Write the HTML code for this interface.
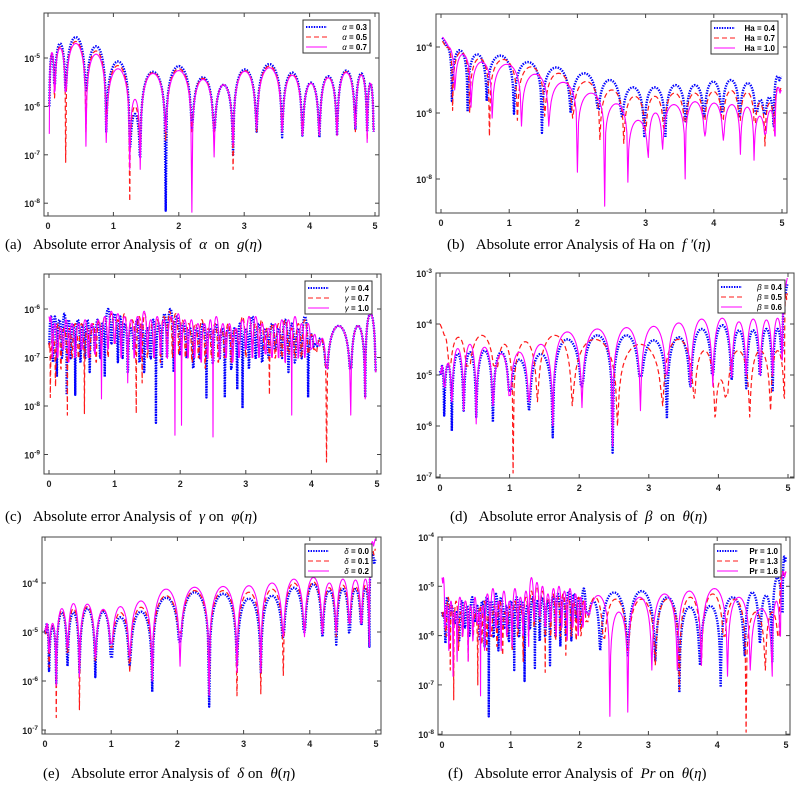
<!DOCTYPE html>
<html><head><meta charset="utf-8">
<style>
html,body{margin:0;padding:0;background:#fff;}
svg{display:block;}
.tk{font-family:"Liberation Sans",sans-serif;font-weight:bold;font-size:9px;fill:#222;}
.lg{font-family:"Liberation Sans",sans-serif;font-weight:bold;font-size:8px;fill:#000;}
.cap{font-family:"Liberation Serif",serif;font-size:15px;fill:#000;}
</style></head>
<body>
<svg id="fig" width="805" height="791" viewBox="0 0 805 791" xmlns="http://www.w3.org/2000/svg"></svg>
<script>
// ---------- data ----------
// panel (a)
const aZ=[0.02,0.1,0.27,0.58,0.89,1.25,1.41,1.80,2.2,2.54,2.83,3.19,3.58,3.89,4.15,4.42,4.7,4.88,4.98];
const aBlueP=[1.2e-5,2e-5,2.7e-5,1.75e-5,8.5e-6,7e-7,5.2e-6,6.8e-6,4e-6,2.8e-6,5.8e-6,7.5e-6,5e-6,3.1e-6,4.2e-6,5.5e-6,4.8e-6,3e-6];
const aRedP=[1.2e-5,1.7e-5,2.2e-5,1.4e-5,7e-6,1e-6,5e-6,6e-6,3.8e-6,2.8e-6,5.5e-6,6.8e-6,4.6e-6,3e-6,4e-6,5.2e-6,4.5e-6,3e-6];
const aMagP=[1.3e-5,1.6e-5,2e-5,1.2e-5,6e-6,1.4e-6,4.8e-6,5.5e-6,3.6e-6,2.8e-6,5.3e-6,6.3e-6,4.4e-6,3e-6,3.9e-6,5e-6,4.4e-6,3e-6];
const aBlueD=[1e-6,3e-6,2e-6,2e-6,3e-7,1.5e-7,9e-8,7e-9,3e-7,3e-7,1e-7,3e-7,2.3e-7,2.5e-7,2.3e-7,2.5e-7,3.3e-7,3e-7,3e-7];
const aRedD=[1e-6,1.5e-6,7e-8,3e-7,3e-7,1.1e-8,1e-7,2e-7,3e-7,3e-7,5e-8,3e-7,3e-7,2.5e-7,2.5e-7,2.5e-7,3e-7,2e-7,3e-7];
const aMagD=[2.7e-7,2e-6,2e-6,1.5e-7,1.8e-7,5e-8,5e-8,3e-7,6.5e-9,9e-8,1.5e-7,3.5e-7,3e-7,2.5e-7,2.5e-7,2.5e-7,3.5e-7,1.8e-7,3e-7];
// panel (b)
const bBlueZ=[0.02,0.16,0.39,0.67,1.07,1.48,1.9,2.3,2.65,2.98,3.29,3.59,3.86,4.12,4.38,4.62,4.75,4.88,4.99];
const bBlueP=[1e-4,8e-5,6e-5,5.5e-5,3.5e-5,2.4e-5,1.6e-5,1e-5,6e-6,6e-6,7e-6,7e-6,9e-6,1e-5,8e-6,2.5e-6,3e-6,1.3e-5];
const bBlueD=[1.9e-4,2.3e-6,1.1e-6,2.3e-6,9.5e-7,2.5e-7,1e-6,1.3e-6,8e-7,2e-7,1.8e-7,5e-7,8e-7,1e-6,8e-7,1e-6,1e-6,4e-7,1.3e-5];
const bRedZ=[0.02,0.17,0.42,0.71,1.12,1.52,1.93,2.33,2.68,3.0,3.27,3.58,3.86,4.13,4.38,4.6,4.75,4.89,4.99];
const bRedP=[1e-4,7e-5,4.5e-5,4.2e-5,2.5e-5,1.6e-5,9e-6,5e-6,3.2e-6,3.2e-6,4e-6,4e-6,4.5e-6,4.8e-6,4.2e-6,2e-6,2e-6,6e-6];
const bRedD=[1.5e-4,1.2e-6,1e-6,2e-7,6e-7,8e-7,7e-7,1.5e-7,1.2e-7,3e-7,3e-7,5e-7,6e-7,6e-7,6e-7,5e-7,1e-7,3e-7,6e-6];
const bMagZ=[0.02,0.2,0.44,0.75,1.18,1.58,2.0,2.4,2.74,3.04,3.25,3.58,3.87,4.14,4.39,4.59,4.76,4.9,4.99];
const bMagP=[1e-4,6e-5,3.5e-5,3e-5,1.5e-5,8.5e-6,4e-6,1.9e-6,6e-7,1e-6,1.8e-6,2.2e-6,2e-6,1.8e-6,1.5e-6,8e-7,1.2e-6,6e-6];
const bMagD=[2e-4,5e-6,1.5e-6,7e-7,4e-7,4e-7,1.6e-8,1.5e-9,8e-9,4.5e-8,8e-8,1e-8,2e-7,1.5e-7,5.6e-8,3.7e-8,2.4e-7,2e-7,5e-6];
// panel (c)
const cBlueZ=[0,0.06,0.12,0.2,0.27,0.33,0.4,0.48,0.55,0.62,0.7,0.78,0.85,0.95,1.05,1.12,1.2,1.3,1.38,1.45,1.55,1.63,1.72,1.8,1.9,2.0,2.1,2.2,2.3,2.4,2.5,2.6,2.68,2.78,2.87,2.95,3.05,3.15,3.25,3.35,3.45,3.55,3.65,3.75,3.85,3.95,4.05,4.23,4.6,4.82,4.98];
const cBlueP=[7e-7,7e-7,6e-7,8e-7,6e-7,5e-7,6e-7,5e-7,6e-7,5e-7,6e-7,5e-7,1e-6,8e-7,7e-7,5e-7,4e-7,6e-7,5e-7,4e-7,6e-7,5e-7,8e-7,1e-6,7e-7,5e-7,4e-7,4e-7,5e-7,4e-7,5e-7,4e-7,4e-7,4e-7,5e-7,4e-7,7e-7,5e-7,4e-7,5e-7,4e-7,6e-7,5e-7,4e-7,7e-7,3e-7,2.5e-7,4.5e-7,4.5e-7,8e-7];
const cBlueD=[2e-7,8e-8,4e-8,1e-7,1.7e-8,1e-7,1.7e-8,8e-8,1e-7,5e-8,1.5e-7,1e-7,4e-8,2e-7,8e-8,1e-7,5e-8,1.5e-7,8e-8,5e-8,1e-7,4.5e-9,6e-8,1e-7,5e-8,1.2e-7,1e-7,6e-8,1e-7,1.5e-8,8e-8,1e-7,1.5e-8,6e-8,2.2e-8,9e-9,6e-8,1e-7,8e-8,1e-7,1.5e-7,1e-7,5e-8,8e-8,1e-7,1.5e-8,2e-7,6e-8,6e-8,1.5e-8,5e-8];
const cRedZ=[0,0.02,0.1,0.18,0.28,0.35,0.45,0.54,0.62,0.72,0.8,0.9,1.0,1.1,1.2,1.33,1.42,1.5,1.6,1.7,1.8,1.88,1.98,2.08,2.18,2.28,2.38,2.48,2.58,2.68,2.78,2.9,3.0,3.1,3.2,3.28,3.36,3.45,3.55,3.65,3.75,3.85,3.95,4.05,4.23,4.6,4.82,4.98];
const cRedP=[2e-7,3e-7,5e-7,4e-7,4e-7,5e-7,5e-7,4e-7,5e-7,6e-7,7e-7,8e-7,6e-7,8e-7,6e-7,7e-7,8e-7,5e-7,6e-7,7e-7,9e-7,8e-7,6e-7,5e-7,5e-7,6e-7,4e-7,5e-7,4e-7,5e-7,4e-7,7e-7,7e-7,5e-7,6e-7,4e-7,5e-7,5e-7,6e-7,4e-7,5e-7,6e-7,3e-7,2.5e-7,4.5e-7,4.5e-7,8e-7];
const cRedD=[2e-7,1.5e-8,2.5e-8,6e-8,6.5e-9,1e-7,1e-7,7e-9,1e-7,8e-8,1.2e-7,1e-7,2e-7,1.5e-7,1e-7,7e-9,3e-8,1e-7,1e-7,8e-8,1.5e-7,1e-7,1.2e-7,1e-7,8e-8,1e-7,6e-8,1e-7,8e-8,1e-7,8e-8,2e-7,1e-7,1e-7,1e-7,1.5e-7,1.7e-8,1e-7,1e-7,1.2e-7,1e-7,1e-7,1.2e-7,1.5e-7,7e-10,6e-8,1.5e-8,5e-8];
const cMagZ=[0,0.05,0.13,0.22,0.3,0.4,0.5,0.6,0.7,0.8,0.9,1.0,1.1,1.2,1.3,1.4,1.5,1.6,1.7,1.8,1.92,2.02,2.12,2.22,2.32,2.42,2.5,2.6,2.7,2.8,2.9,3.0,3.1,3.2,3.3,3.4,3.5,3.6,3.7,3.8,3.9,4.0,4.1,4.23,4.6,4.82,4.98];
const cMagP=[7e-7,5e-7,4e-7,6e-7,5e-7,5e-7,6e-7,5e-7,6e-7,7e-7,9e-7,8e-7,7e-7,6e-7,7e-7,9e-7,6e-7,7e-7,6e-7,7e-7,8e-7,6e-7,6e-7,5e-7,5e-7,6e-7,7e-7,5e-7,5e-7,4e-7,6e-7,7e-7,7e-7,5e-7,4e-7,5e-7,6e-7,6e-7,7e-7,5e-7,5e-7,3e-7,2.5e-7,4.5e-7,4.5e-7,8e-7];
const cMagD=[7e-7,1e-7,1e-7,1.5e-7,8e-8,1e-7,1.5e-7,1e-7,1.2e-7,1.4e-8,1.5e-7,2e-7,1e-7,3e-8,1e-7,1e-7,1.5e-7,1e-7,1.2e-7,1e-7,2.5e-9,4e-9,1e-7,1e-7,8e-8,1e-7,2.3e-9,1e-7,1e-7,8e-8,1e-7,1.5e-7,1e-7,1e-7,1.2e-7,1e-7,1e-7,8e-8,6.5e-9,1e-7,1e-7,1.5e-7,2e-7,6e-8,6.5e-9,1.4e-8,5e-8];
// panel (d)
const dZ=[0,0.06,0.17,0.34,0.52,0.76,1.0,1.28,1.62,2.04,2.48,2.88,3.26,3.6,3.92,4.19,4.4,4.6,4.78,4.92,4.99];
const dBlueP=[1.5e-5,1.6e-5,2.6e-5,2.8e-5,3e-5,2.8e-5,2e-5,2.6e-5,5e-5,6e-5,6e-5,4.8e-5,5.5e-5,8e-5,9.5e-5,7.5e-5,7.5e-5,8e-5,8e-5,4e-4];
const dBlueD=[1.2e-5,1.6e-6,8e-7,2e-6,1.5e-6,1.2e-6,5e-6,2e-6,6e-7,6e-6,3e-7,1e-5,1.4e-6,6e-6,1e-5,8e-6,5.5e-6,1e-5,5e-6,3e-5,6e-4];
const dMagP=[1.5e-5,1.7e-5,3.3e-5,4e-5,3.5e-5,2.6e-5,2.8e-5,4e-5,7e-5,8e-5,8.5e-5,9e-5,1.05e-4,1.25e-4,1.3e-4,1.1e-4,1.25e-4,1.2e-4,1.3e-4,6e-4];
const dMagD=[1.2e-5,6e-6,3e-6,2e-6,1.1e-6,2.5e-6,4e-6,3e-6,1e-6,2.3e-6,4e-7,2e-6,1e-5,6e-6,6e-6,9e-6,1e-5,1e-5,1e-5,2e-5,8e-4];
const dRedZ=[0,0.13,0.4,0.8,1.05,1.4,1.9,2.55,3.2,3.65,3.95,4.12,4.45,4.75,4.95,4.99];
const dRedP=[6e-5,5.5e-5,6e-5,4e-5,4.5e-5,6e-5,5e-5,4e-5,5e-5,3e-5,8e-6,3e-5,3e-5,3e-5,4e-4];
const dRedD=[1e-4,1.5e-5,1.5e-5,1.5e-5,1.2e-7,3e-6,2.5e-6,1e-6,2.5e-6,3.5e-6,1.5e-6,4e-6,1.5e-6,2e-6,3.5e-6,4e-4];
// panel (e)
const eZ=[0,0.06,0.17,0.34,0.52,0.76,1.0,1.28,1.62,2.04,2.48,2.9,3.26,3.6,3.92,4.19,4.4,4.6,4.78,4.9,4.99];
const eBlueP=[1.5e-5,1.3e-5,2.5e-5,2.5e-5,3e-5,2.6e-5,2e-5,2.6e-5,5e-5,6.5e-5,6e-5,4.8e-5,5.5e-5,8e-5,9.5e-5,7e-5,7.5e-5,7.5e-5,8e-5,4e-4];
const eRedP=[1.5e-5,1.4e-5,2.7e-5,3e-5,3.3e-5,2.8e-5,2.5e-5,3.2e-5,5.5e-5,7e-5,7e-5,6.5e-5,7.5e-5,1e-4,1.05e-4,8e-5,9e-5,8.5e-5,9e-5,5e-4];
const eMagP=[1.5e-5,1.5e-5,3e-5,3.8e-5,3.7e-5,2.9e-5,3.3e-5,4.3e-5,7.5e-5,8.2e-5,8.5e-5,8.8e-5,1e-4,1.2e-4,1.3e-4,1e-4,1.2e-4,1.15e-4,1.2e-4,7e-4];
const eBlueD=[1.1e-5,1.6e-6,9e-7,2e-6,1.5e-6,1.2e-6,3e-6,2e-6,6e-7,6e-6,3e-7,2e-6,1.5e-6,8e-6,1e-5,8e-6,5.5e-6,1e-5,1.5e-5,5e-6,3e-4];
const eRedD=[1.1e-5,2e-6,1.8e-7,4e-6,2.6e-7,2.5e-6,5e-6,1.5e-6,1e-6,1e-5,5e-7,5e-7,5.5e-7,1.3e-6,1e-5,1e-5,8e-6,1.5e-5,1.5e-5,6e-6,5e-4];
const eMagD=[1.2e-5,4e-6,8e-7,5e-6,1.2e-6,3e-6,6e-6,3e-6,1e-6,2e-6,5e-7,1.5e-6,1.5e-6,8e-6,8e-6,9e-6,1e-5,1.5e-5,1.5e-5,5e-6,8e-4];
// panel (f)
const fBlueZ=[0,0.05,0.1,0.18,0.25,0.33,0.4,0.48,0.55,0.62,0.68,0.75,0.82,0.9,0.97,1.05,1.12,1.2,1.28,1.35,1.42,1.5,1.57,1.65,1.72,1.8,1.88,1.95,2.02,2.1,2.3,2.7,3.1,3.45,3.75,4.05,4.4,4.62,4.8,4.95,5.0];
const fBlueP=[3e-6,6e-6,4e-6,3e-6,5e-6,4e-6,6e-6,4e-6,5e-6,6e-6,5e-6,7e-6,6e-6,4e-6,5e-6,6e-6,5e-6,4e-6,6e-6,5e-6,6e-6,5e-6,6e-6,7e-6,6e-6,8e-6,7e-6,6e-6,9e-6,5e-6,7.5e-6,8e-6,6e-6,3.8e-6,4e-6,6e-6,7.5e-6,6.5e-6,1.5e-5,4e-5];
const fBlueD=[3e-6,7e-7,1e-6,2e-6,8e-7,1.5e-6,1e-6,2e-6,8e-7,6e-7,2.3e-8,1e-6,5e-7,1.5e-6,8e-7,2e-7,1e-6,1.2e-7,1.5e-6,2.2e-7,8e-7,1e-6,2.5e-7,1e-6,6e-7,1e-6,8e-7,2e-6,1.5e-6,3e-6,5e-7,4e-7,3e-7,7e-8,2.5e-7,9e-8,4e-7,7e-7,3e-7,3e-6,4e-5];
const fRedZ=[0,0.06,0.12,0.17,0.24,0.3,0.38,0.45,0.52,0.58,0.65,0.72,0.8,0.88,0.95,1.02,1.1,1.18,1.26,1.34,1.42,1.5,1.58,1.65,1.72,1.8,1.88,1.95,2.02,2.1,2.35,2.7,3.1,3.45,3.77,4.1,4.42,4.7,4.9,5.0];
const fRedP=[3e-6,6e-6,4e-6,5e-6,3e-6,5e-6,4e-6,3e-6,4e-6,5e-6,3e-6,4e-6,5e-6,3e-6,4e-6,5e-6,4e-6,6e-6,8e-6,1e-5,8e-6,6e-6,7e-6,6e-6,7e-6,6e-6,5e-6,6e-6,5e-6,6e-6,5.5e-6,5.5e-6,5.5e-6,6e-6,7e-6,5.5e-6,3e-6,3e-6,2e-5];
const fRedD=[3e-6,1e-6,2e-7,5e-8,5e-7,1e-6,3e-7,1e-6,1e-7,7e-7,5e-7,1e-6,6e-7,4e-7,1e-6,5e-7,1e-6,3e-7,1e-6,1.5e-6,2e-6,1.8e-7,1e-6,8e-7,1e-6,4e-7,1e-6,8e-7,1e-6,2e-6,9e-7,5e-7,2.5e-7,8e-8,2.5e-7,1e-6,1.1e-8,2e-7,1e-6,2e-5];
const fMagZ=[0,0.04,0.1,0.16,0.22,0.3,0.38,0.45,0.51,0.56,0.62,0.7,0.78,0.86,0.94,1.02,1.1,1.18,1.26,1.34,1.42,1.5,1.58,1.66,1.74,1.82,1.9,1.98,2.05,2.1,2.44,2.7,3.05,3.42,3.77,4.15,4.48,4.8,4.92,5.0];
const fMagP=[1.5e-5,4e-6,5e-6,3e-6,6e-6,5e-6,4e-6,6e-6,3e-6,4e-6,7e-6,9e-6,5e-6,8e-6,5e-6,9e-6,6e-6,8e-6,1.5e-5,1.2e-5,1e-5,7e-6,9e-6,1e-5,8e-6,9e-6,7e-6,6e-6,5e-6,6.5e-6,3e-6,6e-6,7e-6,8e-6,9e-6,6e-6,3.5e-6,5e-6,2e-5];
const fMagD=[1.5e-5,1.5e-6,5e-7,1.5e-7,3e-7,1e-6,3e-7,8e-7,2e-6,6e-8,5e-7,1e-6,1.5e-6,5e-7,1e-6,6e-7,1.5e-6,1e-6,6e-7,2e-6,2.5e-6,1.5e-6,2e-6,1e-6,1.5e-6,8e-7,1.5e-6,1e-6,1.5e-6,3e-6,2.3e-8,2.8e-8,2e-7,2e-7,2.5e-7,1.5e-7,2e-7,1.5e-7,1e-6,2e-5];
const xTickLabels=["0","1","2","3","4","5"];

// ---------- drawing ----------
const NS="http://www.w3.org/2000/svg";
const svg=document.getElementById('fig');
function mk(tag,attrs,parent){const e=document.createElementNS(NS,tag);for(const k in attrs)e.setAttribute(k,attrs[k]);(parent||svg).appendChild(e);return e;}
const STY={
 blue:{stroke:"#0000ff",w:2.4,dash:"1.4 1.2"},
 red:{stroke:"#ff1a1a",w:1.2,dash:"5 3"},
 mag:{stroke:"#ff00ff",w:1.1,dash:""}
};
function panel(p,idx){
  const g=mk('g',{});
  
  
  const xs=v=>p.x0+(p.x5-p.x0)*v/5;
  const ys=v=>p.yRef+(p.yRefExp-Math.log10(v))*p.dec;
  const cid='clip'+idx;
  const cp=mk('clipPath',{id:cid},g);
  mk('rect',{x:p.l,y:p.t,width:p.r-p.l,height:p.b-p.t},cp);
  const frame=mk('rect',{x:p.l,y:p.t,width:p.r-p.l,height:p.b-p.t,fill:"#fff",stroke:"#444","stroke-width":1},g);
  
  
  // ticks
  xTickLabels.forEach((lab,i)=>{
    const x=xs(i);
    mk('line',{x1:x,y1:p.b,x2:x,y2:p.b-4,stroke:"#444"},g);
    mk('line',{x1:x,y1:p.t,x2:x,y2:p.t+4,stroke:"#444"},g);
    const t=mk('text',{x:x,y:p.b+13,"text-anchor":"middle",class:"tk"},g);
    t.textContent=lab;
    
    
  });
  p.yTicks.forEach(e=>{
    const y=ys(Math.pow(10,e));
    mk('line',{x1:p.l,y1:y,x2:p.l+4,y2:y,stroke:"#444"},g);
    mk('line',{x1:p.r,y1:y,x2:p.r-4,y2:y,stroke:"#444"},g);
    const t=mk('text',{x:p.l-4,y:y+4,"text-anchor":"end",class:"tk"},g);
    t.textContent="10";
    const s=mk('tspan',{dy:-4,"font-size":"6.5px"},t);
    s.textContent=String(e);
    
    
  });
  // series
  const sg=mk('g',{"clip-path":"url(#"+cid+")"},g);
  p.series.forEach(s=>{
    const st=STY[s.c];
    let d="";
    const n=Math.min(s.Z.length-1,s.P.length);
    for(let i=0;i<n;i++){
      const z0=s.Z[i],z1=s.Z[i+1];
      const d0=s.D[i]!==undefined?s.D[i]:s.P[i]/20;
      const d1=s.D[i+1]!==undefined?s.D[i+1]:s.P[i]/20;
      const N=24;
      for(let k=(i===0?0:1);k<=N;k++){
        const t=k/N;
        const fl=d0*(1-t)+d1*t;
        const v=Math.max(s.P[i]*Math.sin(Math.PI*t),fl);
        d+=(d===""?"M":"L")+xs(z0+(z1-z0)*t).toFixed(2)+","+ys(v).toFixed(2);
      }
    }
    const path=mk('path',{d:d,fill:"none",stroke:st.stroke,"stroke-width":st.w,"stroke-dasharray":st.dash,"stroke-linejoin":"round"},sg);
    
    
  });
  // legend
  const lw=67,lh=33,lx=p.r-lw-9,ly=p.t+7;
  const lg=mk('g',{},g);
  
  
  mk('rect',{x:lx,y:ly,width:lw,height:lh,fill:"#fff",stroke:"#333","stroke-width":1},lg);
  p.series.forEach((s,i)=>{
    const st=STY[s.c];const yy=ly+7+i*10;
    mk('line',{x1:lx+3,y1:yy,x2:lx+24,y2:yy,stroke:st.stroke,"stroke-width":st.w*0.8,"stroke-dasharray":st.dash},lg);
    const t=mk('text',{x:lx+lw-3,y:yy+3,"text-anchor":"end",class:"lg"},lg);
    t.innerHTML=p.sym+" = "+s.label;
    
    
  });
  const cap=mk('text',{x:p.cx,y:p.cy,class:"cap"},g);
  cap.innerHTML=p.cap;
  
  
}
const it=s=>'<tspan font-style="italic">'+s+'</tspan>';
const panels=[
 {id:"a",l:44,t:13,r:379,b:216,x0:48,x5:375,yRef:58,yRefExp:-5,dec:48.4,yTicks:[-5,-6,-7,-8],sym:'<tspan font-style="italic" font-weight="normal">α</tspan>',
  cx:5,cy:249,cap:'(a)&#160;&#160;&#160;Absolute error Analysis of &#160;'+it('α')+'&#160;&#160;on &#160;'+it('g')+'('+it('η')+')',
  series:[{name:"alpha-0.3",c:"blue",label:"0.3",Z:aZ,P:aBlueP,D:aBlueD},{name:"alpha-0.5",c:"red",label:"0.5",Z:aZ,P:aRedP,D:aRedD},{name:"alpha-0.7",c:"mag",label:"0.7",Z:aZ,P:aMagP,D:aMagD}]},
 {id:"b",l:436,t:14,r:787,b:213,x0:441,x5:782,yRef:47,yRefExp:-4,dec:33,yTicks:[-4,-6,-8],sym:'Ha',
  cx:447,cy:249,cap:'(b)&#160;&#160;&#160;Absolute error Analysis of Ha on &#160;'+it("f ′")+'('+it('η')+')',
  series:[{name:"ha-0.4",c:"blue",label:"0.4",Z:bBlueZ,P:bBlueP,D:bBlueD},{name:"ha-0.7",c:"red",label:"0.7",Z:bRedZ,P:bRedP,D:bRedD},{name:"ha-1.0",c:"mag",label:"1.0",Z:bMagZ,P:bMagP,D:bMagD}]},
 {id:"c",l:44,t:274,r:381,b:474,x0:49,x5:377,yRef:309,yRefExp:-6,dec:48.5,yTicks:[-6,-7,-8,-9],sym:'<tspan font-style="italic" font-weight="normal">γ</tspan>',
  cx:5,cy:521,cap:'(c)&#160;&#160;&#160;Absolute error Analysis of &#160;'+it('γ')+' on &#160;'+it('φ')+'('+it('η')+')',
  series:[{name:"gamma-0.4",c:"blue",label:"0.4",Z:cBlueZ,P:cBlueP,D:cBlueD},{name:"gamma-0.7",c:"red",label:"0.7",Z:cRedZ,P:cRedP,D:cRedD},{name:"gamma-1.0",c:"mag",label:"1.0",Z:cMagZ,P:cMagP,D:cMagD}]},
 {id:"d",l:436,t:273,r:794,b:478,x0:440,x5:788,yRef:273,yRefExp:-3,dec:51,yTicks:[-3,-4,-5,-6,-7],sym:'<tspan font-style="italic" font-weight="normal">β</tspan>',
  cx:450,cy:521,cap:'(d)&#160;&#160;&#160;Absolute error Analysis of &#160;'+it('β')+'&#160;&#160;on &#160;'+it('θ')+'('+it('η')+')',
  series:[{name:"beta-0.4",c:"blue",label:"0.4",Z:dZ,P:dBlueP,D:dBlueD},{name:"beta-0.5",c:"red",label:"0.5",Z:dRedZ,P:dRedP,D:dRedD},{name:"beta-0.6",c:"mag",label:"0.6",Z:dZ,P:dMagP,D:dMagD}]},
 {id:"e",l:42,t:537,r:381,b:734,x0:45,x5:376,yRef:583,yRefExp:-4,dec:49,yTicks:[-4,-5,-6,-7],sym:'<tspan font-style="italic" font-weight="normal">δ</tspan>',
  cx:43,cy:778,cap:'(e)&#160;&#160;&#160;Absolute error Analysis of &#160;'+it('δ')+' on &#160;'+it('θ')+'('+it('η')+')',
  series:[{name:"delta-0.0",c:"blue",label:"0.0",Z:eZ,P:eBlueP,D:eBlueD},{name:"delta-0.1",c:"red",label:"0.1",Z:eZ,P:eRedP,D:eRedD},{name:"delta-0.2",c:"mag",label:"0.2",Z:eZ,P:eMagP,D:eMagD}]},
 {id:"f",l:438,t:537,r:790,b:735,x0:442,x5:786,yRef:537,yRefExp:-4,dec:49.3,yTicks:[-4,-5,-6,-7,-8],sym:'Pr',
  cx:448,cy:778,cap:'(f)&#160;&#160;&#160;Absolute error Analysis of &#160;'+it('Pr')+' on &#160;'+it('θ')+'('+it('η')+')',
  series:[{name:"pr-1.0",c:"blue",label:"1.0",Z:fBlueZ,P:fBlueP,D:fBlueD},{name:"pr-1.3",c:"red",label:"1.3",Z:fRedZ,P:fRedP,D:fRedD},{name:"pr-1.6",c:"mag",label:"1.6",Z:fMagZ,P:fMagP,D:fMagD}]}
];
panels.forEach(panel);
</script>
</body></html>
